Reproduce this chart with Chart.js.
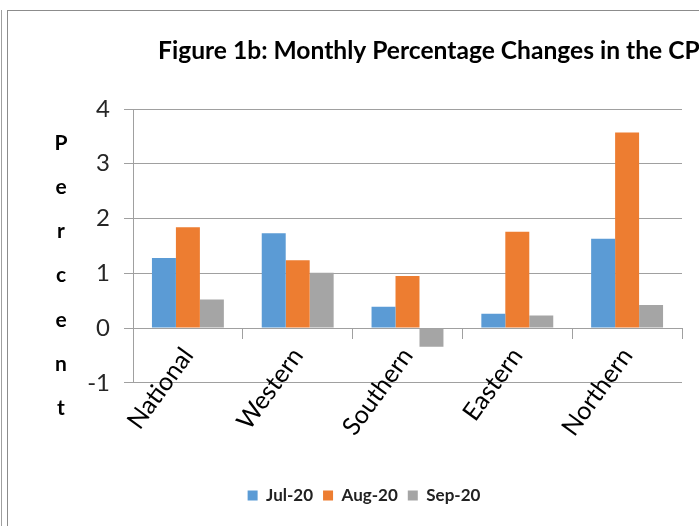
<!DOCTYPE html>
<html>
<head>
<meta charset="utf-8">
<script src="https://cdn.jsdelivr.net/npm/chart.js@4.4.1/dist/chart.umd.min.js"></script>
<style>
  html, body { margin: 0; padding: 0; background: #fff; overflow: hidden; }
  body { width: 699px; height: 526px; position: relative; }
  #edge { position: absolute; left: 1px; top: 10px; width: 0; height: 516px; border-left: 1px solid #a0a0a0; }
  #box { position: absolute; left: 7px; top: 10px; width: 700px; height: 520px; border-left: 1px solid #8c8c8c; border-top: 1px solid #8c8c8c; }
</style>
</head>
<body>
<div id="edge"></div>
<div id="box"><canvas id="cpiChart" width="692" height="516"></canvas></div>
<script>
"use strict";

// data
var regions = ['National', 'Western', 'Southern', 'Eastern', 'Northern'];
var jul20 = [1.28, 1.73, 0.39, 0.26, 1.63];
var aug20 = [1.84, 1.24, 0.95, 1.76, 3.57];
var sep20 = [0.52, 1.01, -0.34, 0.23, 0.42];
var yTicks = [-1, 0, 1, 2, 3, 4];
var titleText = 'Figure 1b: Monthly Percentage Changes in the CPI';
var yAxisText = 'Percent';

// Title and stacked axis letters, drawn where Excel put them
var labelsPlugin = {
    id: 'figureLabels',
    afterDraw: function (chart) {
        var ctx = chart.ctx;
        ctx.save();
        ctx.fillStyle = '#000';
        ctx.textBaseline = 'middle';
        ctx.font = 'bold 24.6px Lato';
        ctx.textAlign = 'left';
        ctx.fillText(titleText, 150, 40);

        ctx.font = 'bold 21px Lato';
        ctx.textAlign = 'center';
        for (var i = 0; i < yAxisText.length; i++) {
            ctx.fillText(yAxisText.charAt(i), 53, 132 + i * 44.2);
        }
        ctx.restore();
    }
};

var ctx = document.getElementById('cpiChart').getContext('2d');
var chart = new Chart(ctx, {
    type: 'bar',
    data: {
        labels: regions,
        datasets: [
            { label: 'Jul-20', data: jul20, backgroundColor: '#5b9bd5' },
            { label: 'Aug-20', data: aug20, backgroundColor: '#ed7d31' },
            { label: 'Sep-20', data: sep20, backgroundColor: '#a5a5a5' }
        ]
    },
    options: {
        responsive: false,
        animation: false,
        layout: { padding: { left: 38, right: 18, top: 98, bottom: 13 } },
        datasets: { bar: { categoryPercentage: 0.655, barPercentage: 1.0 } },
        scales: {
            x: {
                position: { y: 0 },
                grid: { display: true, drawOnChartArea: false, tickLength: 10, color: '#a0a0a0' },
                border: { color: '#a0a0a0' },
                ticks: { minRotation: 54, maxRotation: 54, padding: 4, color: '#000', font: { family: 'Lato', size: 25 } }
            },
            y: {
                min: -1,
                max: 4,
                afterFit: function (scale) { scale.width = 87; },
                afterBuildTicks: function (scale) {
                    scale.ticks = yTicks.map(function (v) { return { value: v }; });
                },
                grid: { color: '#a0a0a0', tickLength: 9 },
                border: { color: '#a0a0a0' },
                ticks: { padding: 14, color: '#262626', font: { family: 'Lato', size: 24 } }
            }
        },
        plugins: {
            legend: {
                position: 'bottom',
                title: { display: true, text: '', padding: { top: 93, bottom: 0 }, font: { size: 1 } },
                labels: {
                    boxWidth: 10,
                    boxHeight: 10,
                    padding: 10,
                    color: '#222',
                    font: { family: 'Lato', size: 17, weight: 'bold' }
                }
            },
            tooltip: { enabled: false }
        }
    },
    plugins: [labelsPlugin]
});
</script>
</body>
</html>
